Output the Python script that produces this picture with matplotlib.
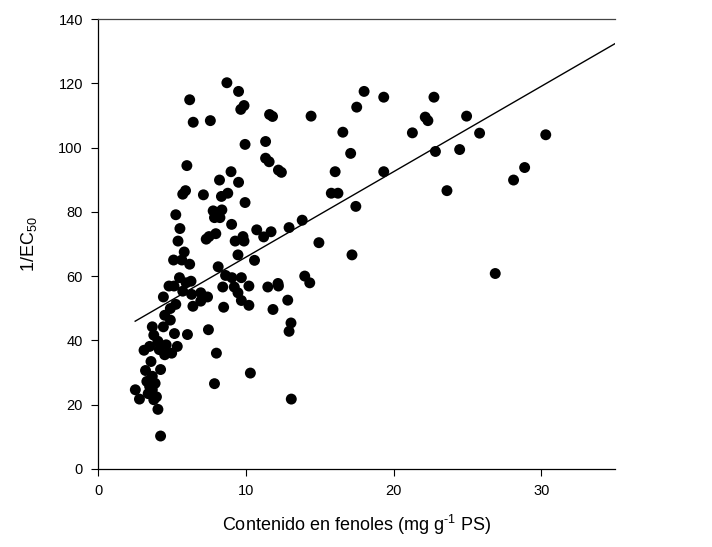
import matplotlib
matplotlib.use("Agg")
import matplotlib.pyplot as plt
import numpy as np

plt.rcParams['font.family'] = ['Liberation Sans', 'DejaVu Sans']
plt.rcParams['mathtext.fontset'] = 'custom'
plt.rcParams['mathtext.rm'] = 'Liberation Sans'
plt.rcParams['mathtext.it'] = 'Liberation Sans:italic'
plt.rcParams['mathtext.bf'] = 'Liberation Sans:bold'

# Phenol content (mg g-1 PS)
fenoles = [
    5.82, 5.10, 5.66, 6.19, 8.12,
    4.79, 5.13, 5.50, 5.95, 6.28, 5.72, 6.32, 6.94, 7.40, 6.94, 8.43, 8.49,
    4.41, 5.25, 6.41, 4.88, 4.50, 4.88, 3.66, 4.41, 3.76, 5.16, 6.04, 7.46,
    4.04, 3.48, 4.60, 5.35, 3.10, 4.13, 4.97, 4.50, 3.57, 8.00,
    4.22, 3.20, 3.66, 3.29, 3.85, 3.48, 3.66, 2.51, 7.87, 2.79, 3.76, 4.04, 4.22, 3.38, 3.94,
    8.71, 9.50, 9.65, 9.87, 6.19, 6.43, 7.59, 11.60, 11.80, 9.94, 11.33, 11.33, 11.57,
    6.00, 8.99, 8.21, 9.50, 5.72, 5.91, 7.12, 8.34, 8.77, 9.94, 5.25,
    7.78, 8.37, 7.87, 8.24, 8.06, 9.03, 5.53, 5.40, 7.31, 7.50, 7.96, 9.27, 9.80, 9.87,
    10.73, 11.20, 11.70, 9.46, 10.58,
    14.41, 12.20, 12.40, 12.92, 13.81, 14.94,
    8.62, 9.05, 9.69, 9.21, 9.46, 10.20, 9.69, 10.20, 11.48, 12.17, 12.20, 11.83,
    12.83, 13.98, 14.32, 13.05, 12.92, 10.30, 13.07,
    18.00, 17.50, 19.33, 16.56, 17.09, 16.04, 15.78, 16.23, 17.44, 17.18, 19.33,
    21.27, 22.14, 22.32, 22.73, 22.83, 23.61, 24.47, 24.94, 25.82, 26.88, 28.12, 28.87, 30.30,
]

# Antioxidant activity 1/EC50
inv_ec50 = [
    67.5, 65.0, 65.0, 63.7, 62.9,
    56.9, 56.9, 59.5, 57.9, 58.4, 55.3, 54.3, 54.8, 53.5, 52.2, 56.6, 50.3,
    53.5, 51.2, 50.6, 49.9, 47.8, 46.3, 44.2, 44.2, 41.6, 42.1, 41.8, 43.3,
    39.7, 38.1, 38.6, 38.1, 36.9, 37.1, 36.0, 35.5, 33.4, 36.0,
    30.9, 30.6, 28.8, 27.2, 26.6, 25.6, 24.6, 24.6, 26.5, 21.7, 21.5, 18.5, 10.2, 23.4, 22.4,
    120.2, 117.5, 111.9, 113.1, 114.9, 107.9, 108.4, 110.3, 109.7, 101.0, 101.9, 96.7, 95.6,
    94.4, 92.5, 89.9, 89.2, 85.5, 86.6, 85.3, 84.8, 85.8, 82.9, 79.1,
    80.3, 80.6, 78.2, 78.2, 79.8, 76.1, 74.8, 70.9, 71.5, 72.3, 73.2, 70.9, 72.3, 70.9,
    74.4, 72.2, 73.8, 66.6, 64.9,
    109.8, 93.0, 92.3, 75.1, 77.4, 70.4,
    60.2, 59.5, 59.5, 56.6, 54.8, 56.9, 52.4, 50.9, 56.6, 57.7, 56.9, 49.6,
    52.5, 60.0, 57.9, 45.4, 42.8, 29.8, 21.7,
    117.5, 112.6, 115.7, 104.8, 98.2, 92.5, 85.8, 85.8, 81.7, 66.6, 92.5,
    104.6, 109.5, 108.4, 115.7, 98.8, 86.6, 99.4, 109.8, 104.5, 60.8, 89.9, 93.8, 104.0,
]

# Regression line
fit_intercept = 39.3
fit_slope = 2.66
fit_x = [2.5, 35.0]

x_ticks = [0, 10, 20, 30]
y_ticks = [0, 20, 40, 60, 80, 100, 120, 140]

fig = plt.figure(figsize=(7.12, 5.47), dpi=100)
ax = fig.add_axes([0.138, 0.143, 0.726, 0.822])

ax.scatter(fenoles, inv_ec50, s=62, color='black', edgecolors='none', zorder=3)
fx = np.array(fit_x)
ax.plot(fx, fit_intercept + fit_slope * fx, color='black', linewidth=1.0, zorder=2)

ax.set_xlim(0, 35)
ax.set_ylim(0, 140)
ax.set_xticks(x_ticks)
ax.set_yticks(y_ticks)
ax.tick_params(direction='out', length=5, width=0.8, labelsize=10.5, pad=6)
ax.spines['right'].set_visible(False)
ax.spines['top'].set_color('#444444')
for s in ['left', 'bottom', 'top']:
    ax.spines[s].set_linewidth(0.9)

ax.set_xlabel('Contenido en fenoles (mg g$^{\\text{-1}}$ PS)', fontsize=13, labelpad=11)
ax.set_ylabel('1/EC$_{50}$', fontsize=13, labelpad=14)

fig.savefig('out.png', dpi=100)
